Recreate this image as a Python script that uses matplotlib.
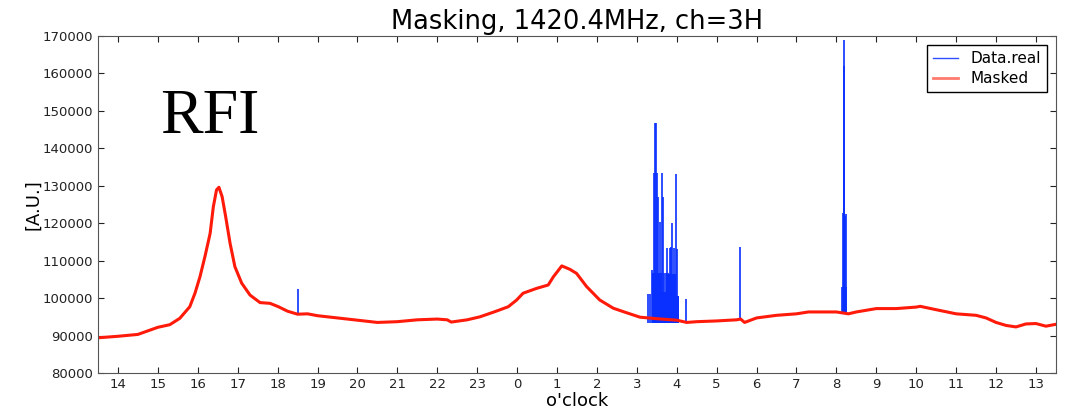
import numpy as np
import matplotlib.pyplot as plt
from matplotlib.lines import Line2D

# masked (smooth) power, hours since midnight of day 1 (24 = 0 o'clock)
t_mask = [13.5, 14.0, 14.5, 15.0, 15.3, 15.55, 15.8, 15.93, 16.055, 16.18, 16.31, 16.39, 16.47,
          16.53, 16.61, 16.70, 16.81, 16.93, 17.10, 17.31, 17.56, 17.81, 18.02, 18.25, 18.5,
          18.75, 19.0, 19.5, 20.0, 20.5, 21.0, 21.5, 22.0, 22.25, 22.35, 22.75, 23.07,
          23.45, 23.78, 23.99, 24.15, 24.49, 24.78, 24.91, 25.12, 25.32, 25.49, 25.74, 26.07,
          26.41, 26.74, 27.08, 27.5, 28.0, 28.25, 28.5, 29.0, 29.5, 29.6, 29.7, 30.0,
          30.5, 31.0, 31.3, 32.0, 32.3, 32.5, 33.0, 33.5, 34.0, 34.1, 34.5, 35.0,
          35.5, 35.75, 36.0, 36.25, 36.5, 36.75, 37.0, 37.25, 37.5]
v_mask = [89400, 89800, 90300, 92200, 92900, 94600, 97700, 101300, 105700, 111100, 117300, 124400, 128900,
          129600, 127100, 121700, 114600, 108400, 104000, 100800, 98800, 98600, 97700, 96500, 95700,
          95800, 95300, 94700, 94100, 93500, 93700, 94200, 94400, 94200, 93600, 94200, 95000,
          96400, 97700, 99500, 101300, 102600, 103500, 105700, 108600, 107700, 106600, 103100, 99500,
          97300, 96100, 94900, 94500, 94100, 93500, 93700, 93900, 94200, 94400, 93500, 94700,
          95400, 95800, 96300, 96300, 95800, 96300, 97200, 97200, 97600, 97800, 96900, 95800,
          95400, 94700, 93500, 92700, 92300, 93100, 93200, 92500, 93000]

# RFI spikes seen only in Data.real
spike_t = [18.5, 27.285, 27.335, 27.38, 27.42, 27.455, 27.48, 27.50, 27.54, 27.58, 27.60,
           27.63, 27.66, 27.69, 27.73, 27.76, 27.79, 27.82, 27.85, 27.89, 27.93, 27.97,
           28.00, 28.04, 28.23, 29.58, 32.14, 32.16, 32.18, 32.19, 32.20, 32.21, 32.23, 32.24]
spike_top = [102400, 101000, 101000, 107500, 133300, 146900, 146800, 133300, 127100, 120400, 106700,
             133400, 127100, 106700, 106700, 113300, 106700, 113400, 113600, 120000, 113300, 133200,
             113000, 100500, 99700, 113700, 103000, 122700, 169000, 162000, 137000, 122000, 122500, 103000]
spike_base = [95700, 93300, 93300, 93300, 93300, 93300, 93300, 93300, 93300, 93300, 93300,
              93300, 93300, 93300, 93300, 93300, 93300, 93300, 93300, 93300, 93300, 93300,
              93300, 93300, 93500, 94400, 96000, 96000, 96000, 96000, 96000, 96000, 95800, 95800]

# densely packed RFI in the 3-4 o'clock burst
fill_t = [27.37, 27.62, 27.72, 27.98, 28.05]
fill_top = [106700, 101500, 106500, 100500, 100500]
fill_lo = 93300

xtick_pos = list(range(14, 38))
xtick_lab = [str(h % 24) for h in xtick_pos]

fig = plt.figure(figsize=[10.72, 4.13], dpi=100)
ax = fig.add_axes([0.0914, 0.0969, 0.8936, 0.8159])

blue = '#0a30ff'
ax.plot(t_mask, v_mask, color=blue, linewidth=1)
ax.vlines(spike_t, spike_base, spike_top, color=blue, linewidth=1.2)
ax.fill_between(fill_t, fill_lo, fill_top, step='post', color=blue, linewidth=0)
ax.plot(t_mask, v_mask, color='#ff1a0a', linewidth=2.2)

ax.text(15.05, 144000, 'RFI', fontsize=46, family='Liberation Serif', va='baseline')

ax.set_xlim(13.5, 37.5)
ax.set_ylim(80000, 170000)
ax.set_xticks(xtick_pos, xtick_lab)
ax.set_yticks(np.arange(80000, 170001, 10000))
ax.tick_params(direction='in', length=4, top=True, right=True, labelsize=9.5, colors='#222222')
for s in ax.spines.values():
    s.set_color('#555555')

ax.set_title('Masking, 1420.4MHz, ch=3H', fontsize=18.5, pad=5)
ax.set_xlabel("o'clock", fontsize=13, labelpad=1)
ax.set_ylabel('[A.U.]', fontsize=13, labelpad=0)

handles = [Line2D([], [], color='#3050ff', linewidth=1),
           Line2D([], [], color='#ff7a6e', linewidth=2)]
ax.legend(handles, ['Data.real', 'Masked'], loc='upper right', fontsize=11,
          fancybox=False, framealpha=1, edgecolor='black', handlelength=1.6,
          borderaxespad=0.6, borderpad=0.4, labelspacing=0.3)

fig.savefig('out.png', dpi=100)
plt.close(fig)
